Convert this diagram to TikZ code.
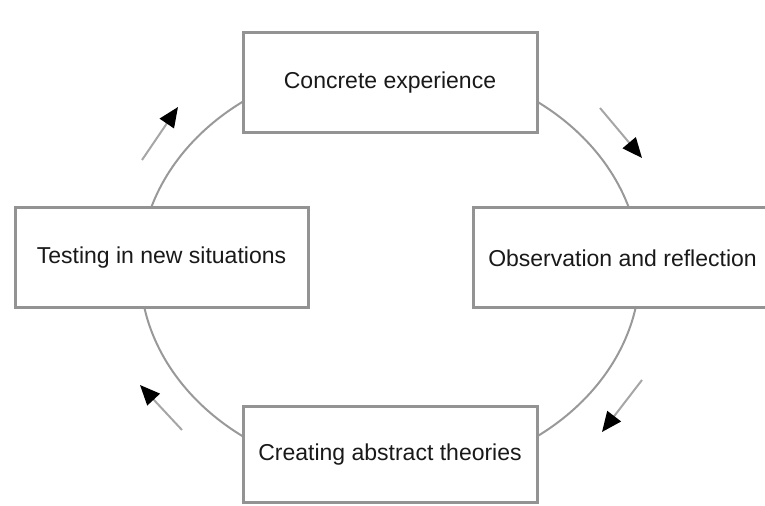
\documentclass[tikz,border=0pt]{standalone}
\usepackage{fontspec}
\setmainfont{Liberation Sans}
\usetikzlibrary{arrows.meta}
\begin{document}
\begin{tikzpicture}[x=0.5pt,y=-0.5pt,font=\fontsize{11.5}{13}\selectfont,
    stage/.style={draw=gray!85,line width=1.5pt,fill=white,inner sep=0pt,text=black!90},
    ring/.style={draw=gray!80,line width=1pt},
    flow/.style={draw=gray!70,line width=1pt,-{Triangle[length=10pt,width=8.5pt,black]}}]
  \useasboundingbox (0,0) rectangle (765,506);
  \coordinate (hub) at (390,269);
  \draw[ring] (hub) ellipse [x radius=125pt,y radius=103.5pt];
  \node[stage,minimum width=147pt,minimum height=50pt] (concrete) at (390,83) {Concrete experience};
  % box runs off the right edge
  \node[stage,minimum width=167pt,minimum height=50pt] (observe) at (640,258) {Observation and reflection\hspace*{17.5pt}};
  \node[stage,minimum width=147pt,minimum height=48pt] (abstract) at (390,455) {Creating abstract theories};
  \node[stage,minimum width=146.5pt,minimum height=50pt] (testing) at (161.5,258) {Testing in new situations};
  % arrows outside the ring
  \coordinate (tl0) at (142,160); \coordinate (tl1) at (178,107);
  \coordinate (tr0) at (600,108); \coordinate (tr1) at (642,158);
  \coordinate (br0) at (642,380); \coordinate (br1) at (602,432);
  \coordinate (bl0) at (182,430); \coordinate (bl1) at (140,385);
  \foreach \from/\to in {tl0/tl1,tr0/tr1,br0/br1,bl0/bl1}
    \draw[flow] (\from) -- (\to);
\end{tikzpicture}
\end{document}
